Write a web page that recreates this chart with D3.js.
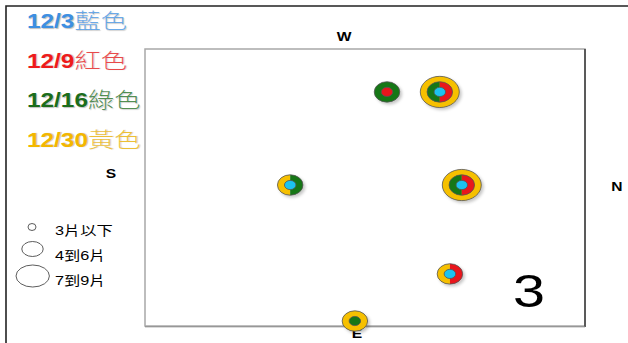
<!DOCTYPE html>
<html><head><meta charset="utf-8">
<script src="https://cdn.jsdelivr.net/npm/d3@7/dist/d3.min.js"></script>
<style>body{margin:0;background:#fff}svg{display:block}</style>
</head><body><svg id="c" width="628" height="343"></svg>
<script>
// ---- data ----
const seriesNames = ["12/3", "12/9", "12/16", "12/30"];
const seriesColorNames = ["藍色", "紅色", "綠色", "黃色"];
const sizeLabels = ["3片以下", "4到6片", "7到9片"];
const directions = ["W", "S", "N", "E"];
// locations: horizontal position (S→N, 0..100), vertical position (W→E, 0..100)
const locS_N = [55.0, 67.0, 33.0, 72.0, 69.3, 47.7];
const locW_E = [15.5, 15.5, 49.1, 49.1, 81.2, 98.2];
// size class per series per location (0 = none, 1 = 3片以下, 2 = 4到6片, 3 = 7到9片)
const size_12_3  = [0, 1, 1, 1, 1, 0];
const size_12_9  = [1, 2, 0, 2, 2, 0];
const size_12_16 = [2, 2, 2, 2, 0, 1];
const size_12_30 = [0, 3, 2, 3, 2, 2];
const panelNumber = "3";

// ---- drawing ----
const svg = d3.select("#c");
const SX = 1.25;
const legendColors = ["#3d8fe2", "#ee1b1b", "#1b6d1b", "#f3b700"];
const glyphColors = ["#1cc3ef", "#e8141c", "#167716", "#f6c000"];
const sizes = [size_12_3, size_12_9, size_12_16, size_12_30];

const defs = svg.append("defs");
defs.append("filter").attr("id", "sh").attr("x", "-50%").attr("y", "-50%").attr("width", "200%").attr("height", "200%")
  .append("feDropShadow").attr("dx", 2).attr("dy", 2).attr("stdDeviation", 1.5)
  .attr("flood-color", "#000").attr("flood-opacity", 0.22);

// outer frame
svg.append("path").attr("d", "M6,343 V6 H628").attr("fill", "none").attr("stroke", "#222").attr("stroke-width", 1.6);

// plot box
const L = 145, R = 585, T = 49, B = 326;
svg.append("rect").attr("x", L).attr("y", T).attr("width", R - L).attr("height", B - T)
  .attr("fill", "#fff").attr("stroke", "#a8a8a8").attr("stroke-width", 1.5);
svg.append("line").attr("x1", R).attr("x2", R).attr("y1", T).attr("y2", B + 1).attr("stroke", "#3a3a3a").attr("stroke-width", 1.5);
svg.append("line").attr("x1", L).attr("x2", R).attr("y1", B + 0.8).attr("y2", B + 0.8).attr("stroke", "#888").attr("stroke-width", 1);

const x = d3.scaleLinear().domain([0, 100]).range([L, R]);
const y = d3.scaleLinear().domain([0, 100]).range([T, B]);
const ry = d3.scaleOrdinal().domain([1, 2, 3]).range([4.6, 10.2, 15.6]);

function txt(g, s, px, py, size, opts = {}) {
  return g.append("text").attr("transform", `translate(${px},${py}) scale(${SX},1)`)
    .attr("font-family", opts.family || "Liberation Sans, Arial, sans-serif")
    .attr("font-size", size).attr("font-weight", opts.weight || "normal")
    .attr("text-anchor", opts.anchor || "start").attr("fill", opts.fill || "#000").text(s);
}

// direction labels
const dirPos = [[344, 41], [111, 178], [617, 191], [357, 338]];
directions.forEach((d, i) => txt(svg, d, dirPos[i][0], dirPos[i][1], 12.5, {weight: "bold", anchor: "middle"}));

// series legend
const lg = svg.append("g");
seriesNames.forEach((s, i) => {
  const by = 28 + i * 39.5;
  const t = lg.append("text").attr("transform", `translate(27,${by}) scale(${SX},1)`)
    .attr("font-family", "Liberation Sans, Arial, sans-serif").attr("font-size", 19.5)
    .style("text-shadow", "1px 1px 1px rgba(0,0,0,0.25)");
  t.append("tspan").attr("font-weight", "bold").attr("fill", legendColors[i]).text(s);
  t.append("tspan").attr("font-family", "Noto Sans CJK TC, sans-serif").attr("font-weight", 300)
    .attr("font-size", 21).attr("fill", legendColors[i]).attr("fill-opacity", 0.75).text(seriesColorNames[i]);
});

// size legend
const legEll = [[32, 227, 4, 3.5], [32.5, 249, 10.7, 7.5], [32.7, 276, 16.7, 11]];
const legTy = [235, 260, 285];
sizeLabels.forEach((s, i) => {
  svg.append("ellipse").attr("cx", legEll[i][0]).attr("cy", legEll[i][1]).attr("rx", legEll[i][2]).attr("ry", legEll[i][3])
    .attr("fill", "#fff").attr("stroke", "#333").attr("stroke-width", 0.8);
  txt(svg, s, 55, legTy[i], 13, {family: "Liberation Sans, Noto Sans CJK TC, sans-serif"});
});

// glyphs
function halfPath(cx, cy, rx_, ry_, left) {
  return `M${cx},${cy - ry_} A${rx_},${ry_} 0 0 ${left ? 0 : 1} ${cx},${cy + ry_} Z`;
}
locS_N.forEach((lx, li) => {
  const cx = x(lx), cy = y(locW_E[li]);
  const g = svg.append("g").attr("filter", "url(#sh)");
  const classes = [3, 2, 1];
  classes.forEach(c => {
    const members = sizes.map((arr, si) => arr[li] === c ? si : -1).filter(v => v >= 0);
    if (!members.length) return;
    const r = ry(c), rxv = r * SX;
    if (members.length === 1) {
      g.append("ellipse").attr("cx", cx).attr("cy", cy).attr("rx", rxv).attr("ry", r)
        .attr("fill", glyphColors[members[0]]).attr("stroke", "#555").attr("stroke-width", 0.8);
    } else {
      const later = members[members.length - 1], earlier = members[0];
      g.append("path").attr("d", halfPath(cx, cy, rxv, r, true)).attr("fill", glyphColors[later]);
      g.append("path").attr("d", halfPath(cx, cy, rxv, r, false)).attr("fill", glyphColors[earlier]);
      g.append("ellipse").attr("cx", cx).attr("cy", cy).attr("rx", rxv).attr("ry", r)
        .attr("fill", "none").attr("stroke", "#555").attr("stroke-width", 0.8);
    }
  });
});

// panel number
txt(svg, panelNumber, 529, 307, 46, {anchor: "middle"});
</script></body></html>
